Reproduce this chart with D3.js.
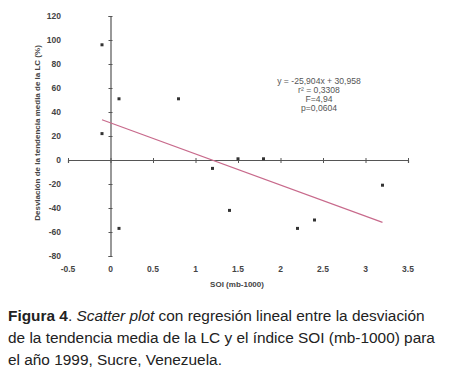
<!DOCTYPE html>
<html>
<head>
<meta charset="utf-8">
<script src="https://cdn.jsdelivr.net/npm/d3@7"></script>
<style>
  body { margin: 0; background: #fff; }
  svg { display: block; font-family: "Liberation Sans", Arial, sans-serif; }
</style>
</head>
<body>
<svg id="chart" width="450" height="376"></svg>
<script>
// SOI (mb-1000) vs desviación de la tendencia media de la LC (%)
const soi = [-0.1, 0.1, 0.8, -0.1, 0.1, 1.2, 1.5, 1.8, 1.4, 2.2, 2.4, 3.2];
const desv = [96, 51, 51, 22, -57, -7, 1, 1, -42, -57, -50, -21];
const xTicks = [-0.5, 0, 0.5, 1, 1.5, 2, 2.5, 3, 3.5];
const yTicks = [-80, -60, -40, -20, 0, 20, 40, 60, 80, 100, 120];
const slope = -25.904, intercept = 30.958;
const statLines = ["y = -25,904x + 30,958", "r² = 0,3308", "F=4,94", "p=0,0604"];

const svg = d3.select("#chart");

const x = d3.scaleLinear().domain([-0.5, 3.5]).range([68, 408]);
const y = d3.scaleLinear().domain([-80, 120]).range([256, 16]);

// axes through the origin
const yAxis = svg.append("g")
  .attr("transform", `translate(${x(0)},0)`)
  .call(d3.axisLeft(y).tickValues(yTicks).tickSize(2).tickFormat(""));
const xAxis = svg.append("g")
  .attr("transform", `translate(0,${y(0)})`)
  .call(d3.axisBottom(x).tickValues(xTicks).tickSize(3).tickFormat(""));
[yAxis, xAxis].forEach(g => {
  g.selectAll("path").attr("stroke", "#555").attr("stroke-width", 1.2);
  g.selectAll("line").attr("stroke", "#555");
});
// ticks also on the other side
yAxis.selectAll(".tick line").attr("x1", 2);
xAxis.selectAll(".tick line").attr("y1", -2);

// tick labels sit outside the plot, not on the axes
svg.append("g").selectAll("text").data(yTicks).join("text")
  .attr("x", 61).attr("y", d => y(d) + 3)
  .attr("text-anchor", "end")
  .attr("font-size", 8.5).attr("font-weight", "bold").attr("fill", "#444")
  .text(d => String(d));
svg.append("g").selectAll("text").data(xTicks).join("text")
  .attr("x", d => x(d)).attr("y", 272)
  .attr("text-anchor", "middle")
  .attr("font-size", 8.5).attr("font-weight", "bold").attr("fill", "#444")
  .text(d => String(d));

svg.append("text")
  .attr("x", 237).attr("y", 287)
  .attr("text-anchor", "middle")
  .attr("font-size", 8).attr("font-weight", "bold").attr("fill", "#444")
  .text("SOI (mb-1000)");

svg.append("text")
  .attr("transform", "translate(40,133) rotate(-90)")
  .attr("text-anchor", "middle")
  .attr("font-size", 8).attr("font-weight", "bold").attr("fill", "#444")
  .text("Desviación de la tendencia media de la LC (%)");

// regression line
const xr = d3.extent(soi);
svg.append("line")
  .attr("x1", x(xr[0])).attr("y1", y(slope * xr[0] + intercept))
  .attr("x2", x(xr[1])).attr("y2", y(slope * xr[1] + intercept))
  .attr("stroke", "#c86a8c").attr("stroke-width", 1.2);

// points
svg.append("g").selectAll("rect").data(soi.map((v, i) => [v, desv[i]])).join("rect")
  .attr("x", d => x(d[0]) - 1.5).attr("y", d => y(d[1]) - 1.5)
  .attr("width", 3).attr("height", 3)
  .attr("fill", "#333");

// stats
svg.append("g").selectAll("text").data(statLines).join("text")
  .attr("x", 319).attr("y", (d, i) => 84 + i * 9)
  .attr("text-anchor", "middle")
  .attr("font-size", 8.6).attr("fill", "#555")
  .text(d => d);

// caption
const cap = svg.append("g").attr("font-size", 15.4).attr("fill", "#222");
const l1 = cap.append("text").attr("x", 8).attr("y", 321);
l1.append("tspan").attr("font-weight", "bold").text("Figura 4");
l1.append("tspan").text(". ");
l1.append("tspan").attr("font-style", "italic").text("Scatter plot");
l1.append("tspan").text(" con regresión lineal entre la desviación");
cap.append("text").attr("x", 8).attr("y", 343)
  .text("de la tendencia media de la LC y el índice SOI (mb-1000) para");
cap.append("text").attr("x", 8).attr("y", 365)
  .text("el año 1999, Sucre, Venezuela.");
</script>
</body>
</html>
